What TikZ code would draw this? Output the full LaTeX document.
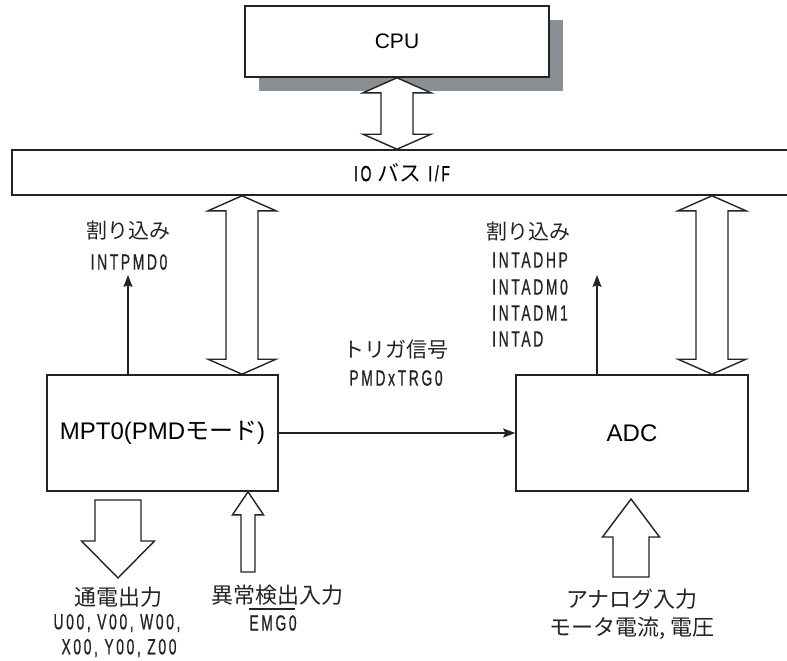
\documentclass[tikz,border=0pt]{standalone}
\usepackage{fontspec}
\setmainfont{Liberation Sans}
\newfontfamily\jp{Noto Sans CJK JP}
\newfontfamily\nar[FakeStretch=0.63,LetterSpace=12,FakeBold=0.6]{Liberation Sans}
\usetikzlibrary{arrows.meta,calc}
\definecolor{shadowgray}{RGB}{138,143,148}
\definecolor{ink}{RGB}{35,35,35}
\newcommand\DArrow[2]{\draw[blk] let \p1=#1, \p2=#2 in
  (\x1,\y1) -- (\x1+34pt,\y1-15pt) -- (\x1+16pt,\y1-15pt) -- (\x1+16pt,\y2+15pt) -- (\x1+34pt,\y2+15pt) -- (\x1,\y2)
  -- (\x1-34pt,\y2+15pt) -- (\x1-16pt,\y2+15pt) -- (\x1-16pt,\y1-15pt) -- (\x1-34pt,\y1-15pt) -- cycle;}
\newcommand\UArrow[5]{\draw[blk] let \p1=#1, \p2=#2 in
  (\x1,\y1) -- (\x1+#4,\y1-#5) -- (\x1+#3,\y1-#5) -- (\x1+#3,\y2) -- (\x1-#3,\y2) -- (\x1-#3,\y1-#5) -- (\x1-#4,\y1-#5) -- cycle;}
\newcommand\DnArrow[5]{\draw[blk] let \p1=#1, \p2=#2 in
  (\x2,\y2) -- (\x2+#4,\y2+#5) -- (\x2+#3,\y2+#5) -- (\x2+#3,\y1) -- (\x2-#3,\y1) -- (\x2-#3,\y2+#5) -- (\x2-#4,\y2+#5) -- cycle;}
\begin{document}
\begin{tikzpicture}[x=1pt,y=-1pt,
  box/.style={draw=ink, line width=1.6pt, fill=white, inner sep=0pt},
  blk/.style={draw=ink, line width=1.4pt, fill=white, line join=miter},
  sig/.style={draw=ink, line width=1.4pt, -{Stealth[length=12pt,width=9pt,inset=2pt]}},
  lbl/.style={font=\fontsize{21}{24}\selectfont\jp, inner sep=0pt, text=ink},
  blbl/.style={font=\fontsize{22}{24}\selectfont\jp, inner sep=0pt, text=ink},
  nlbl/.style={font=\fontsize{22}{24}\selectfont\nar, inner sep=0pt, text=ink}]
\useasboundingbox (0,0) rectangle (787,661);
% CPU with shadow
\fill[shadowgray] (259,20) rectangle (563,91);
\node[box, minimum width=304pt, minimum height=71pt, font=\fontsize{21}{24}\selectfont] (cpu) at (397,41.5) {CPU};
% IO bus
\node[box, minimum width=780pt, minimum height=45pt, font=\fontsize{22}{24}\selectfont\nar] (bus) at (402,172.5) {IO {\jp バス} I/F};
% blocks
\node[box, minimum width=231pt, minimum height=116pt, font=\fontsize{24}{26}\selectfont] (mpt) at (162.5,433) {MPT0(PMD{\jp モード})};
\node[box, minimum width=232pt, minimum height=116pt, font=\fontsize{24}{26}\selectfont] (adc) at (632,433) {ADC};
% double arrows
\coordinate (la) at (242,0);
\coordinate (ra) at (712,0);
\DArrow{(cpu.south)}{(bus.north -| cpu.south)}
\DArrow{(bus.south -| la)}{(mpt.north -| la)}
\DArrow{(bus.south -| ra)}{(adc.north -| ra)}
% interrupts
\node[lbl] (irq1) at (128,231) {割り込み};
\node[nlbl] (intp) at (129,262) {INTPMD0};
\coordinate (t1) at (128,275);
\draw[sig] (mpt.north -| t1) -- (t1);
\node[lbl, anchor=west] (irq2) at (486,232) {割り込み};
\node[nlbl, anchor=west] (ia1) at (492,260) {INTADHP};
\node[nlbl, anchor=west] (ia2) at (492,287) {INTADM0};
\node[nlbl, anchor=west] (ia3) at (492,313) {INTADM1};
\node[nlbl, anchor=west] (ia4) at (492,339) {INTAD};
\coordinate (t2) at (597,275);
\draw[sig] (adc.north -| t2) -- (t2);
% trigger
\node[lbl] (trg) at (396,350) {トリガ信号};
\node[nlbl] (trgs) at (396,378) {PMDxTRG0};
\draw[sig] (mpt.east) -- (adc.west);
% bottom arrows
\coordinate (o1) at (118,500);
\coordinate (o2) at (118,578);
\DnArrow{(o1)}{(o2)}{23pt}{36.5pt}{37pt}
\coordinate (e1) at (248,0);
\coordinate (e2) at (248,572);
\UArrow{(mpt.south -| e1)}{(e2)}{7pt}{15.5pt}{23pt}
\coordinate (a1) at (631,499);
\coordinate (a2) at (631,577);
\UArrow{(a1)}{(a2)}{18pt}{28.5pt}{38pt}
% bottom labels
\node[blbl] (out1) at (118,597) {通電出力};
\node[nlbl] (out2) at (117,623) {U00, V00, W00,};
\node[nlbl] (out3) at (119,648) {X00, Y00, Z00};
\node[blbl] (emg1) at (277,595) {異常検出入力};
\node[nlbl] (emg2) at (273,623) {EMG0};
\draw[ink, line width=1.3pt] ([yshift=6pt]emg2.north west) -- ([yshift=6pt,xshift=-2pt]emg2.north east);
\node[blbl] (ana1) at (632,599) {アナログ入力};
\node[blbl] (ana2) at (632,628) {モータ電流, 電圧};
\end{tikzpicture}
\end{document}
